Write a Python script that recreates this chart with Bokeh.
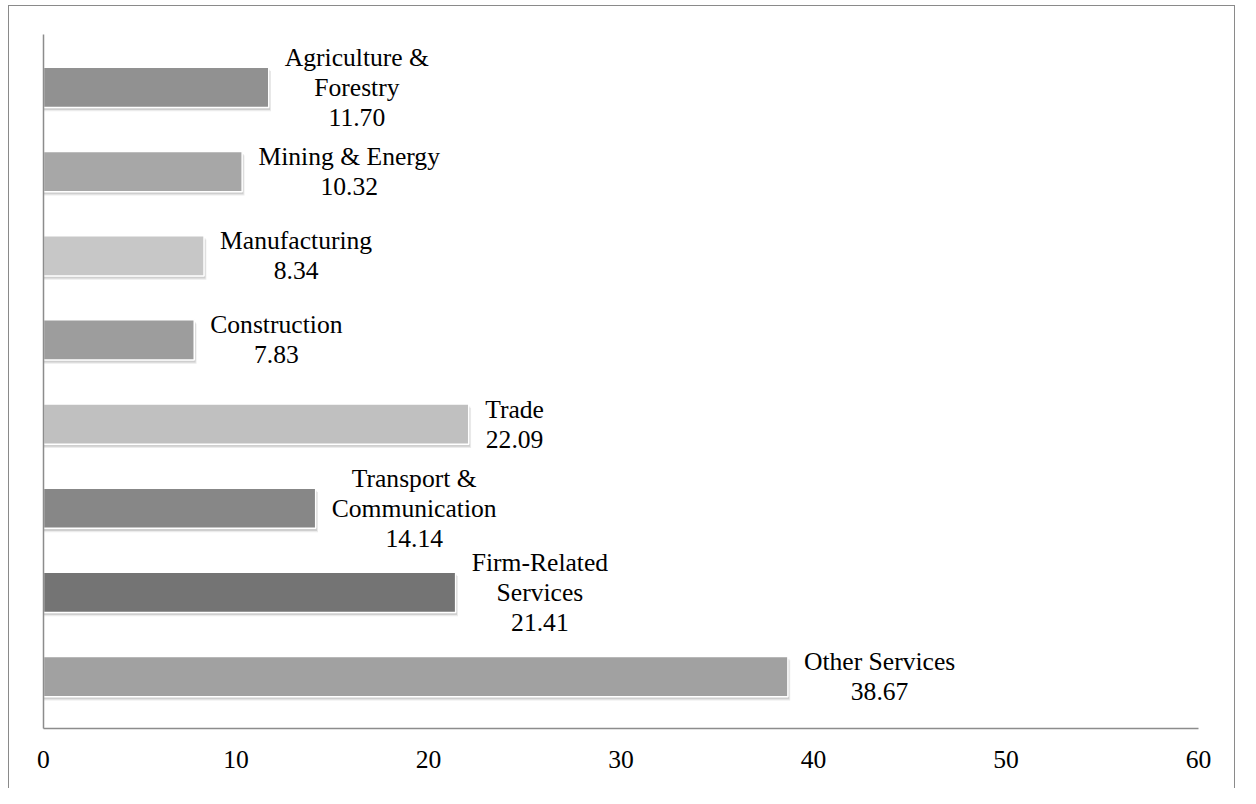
from bokeh.plotting import figure
from bokeh.models import Range1d, FixedTicker, ColumnDataSource, InlineStyleSheet
from bokeh.core.properties import value
from bokeh.embed import file_html
from bokeh.resources import INLINE

# ---- data ----
categories = ["Agriculture &\nForestry", "Mining & Energy", "Manufacturing", "Construction",
              "Trade", "Transport &\nCommunication", "Firm-Related\nServices", "Other Services"]
values = [11.70, 10.32, 8.34, 7.83, 22.09, 14.14, 21.41, 38.67]
bar_colors = ["#919191", "#a7a7a7", "#c7c7c7", "#9d9d9d",
              "#c0c0c0", "#878787", "#747474", "#a1a1a1"]
x_ticks = [0, 10, 20, 30, 40, 50, 60]

# ---- style ----
W, H = 1240, 788
FONT = "Liberation Serif"
FS = 25.6
LINE_H = 30.0
GAP = 16.0
# Times advance widths (per 1000 em) for label block width estimation
TW = {' ': 250, '&': 778, '-': 333, '.': 250,
      'A': 722, 'B': 667, 'C': 667, 'D': 722, 'E': 611, 'F': 556, 'G': 722, 'H': 722, 'I': 333,
      'J': 389, 'K': 722, 'L': 611, 'M': 889, 'N': 722, 'O': 722, 'P': 556, 'Q': 722, 'R': 667,
      'S': 556, 'T': 611, 'U': 722, 'V': 722, 'W': 944, 'X': 722, 'Y': 722, 'Z': 611,
      'a': 444, 'b': 500, 'c': 444, 'd': 500, 'e': 444, 'f': 333, 'g': 500, 'h': 500, 'i': 278,
      'j': 278, 'k': 500, 'l': 278, 'm': 778, 'n': 500, 'o': 500, 'p': 500, 'q': 500, 'r': 333,
      's': 389, 't': 278, 'u': 500, 'v': 500, 'w': 722, 'x': 500, 'y': 500, 'z': 444}
for d in "0123456789":
    TW[d] = 500


def text_w(s):
    return sum(TW.get(ch, 500) for ch in s) * FS / 1000.0


ypos = list(range(len(categories)))

p = figure(width=W, height=H, output_backend="svg", toolbar_location=None,
           x_range=Range1d(0, 60), y_range=Range1d(7.617, -0.629),
           min_border_left=43, min_border_right=42, min_border_top=34, min_border_bottom=60)
p.outline_line_color = None
p.grid.visible = False
p.background_fill_color = "white"
p.border_fill_color = "white"
p.stylesheets = [InlineStyleSheet(css=(
    ":host { position: relative; }"
    ":host::after { content: ''; position: absolute; left: 8px; top: 5px; right: 5px; "
    "bottom: 0px; border: 1.5px solid #8a8a8a; border-bottom: none; "
    "pointer-events: none; z-index: 10; }"))]

# shadows
p.hbar(y=[y + 0.045 for y in ypos], right=[v + 0.12 for v in values], left=0, height=0.478,
       fill_color="#9a9a9a", fill_alpha=0.2, line_color=None)
p.hbar(y=[y + 0.03 for y in ypos], right=[v + 0.07 for v in values], left=0, height=0.478,
       fill_color="#8a8a8a", fill_alpha=0.28, line_color=None)
# bars
p.hbar(y=ypos, right=values, left=0, height=0.478, fill_color=bar_colors,
       line_color="white", line_width=1.5)

# labels
lx, ly, lt, xo, yo = [], [], [], [], []
for i, (c, v) in enumerate(zip(categories, values)):
    lines = c.split("\n") + [f"{v:.2f}"]
    bw = max(text_w(s) for s in lines)
    n = len(lines)
    for j, s in enumerate(lines):
        lx.append(v)
        ly.append(ypos[i])
        lt.append(s)
        xo.append(GAP + bw / 2.0)
        yo.append((j - (n - 1) / 2.0) * LINE_H)
src = ColumnDataSource(dict(x=lx, y=ly, t=lt, xo=xo, yo=yo))
p.text(x="x", y="y", text="t", x_offset="xo", y_offset="yo", source=src,
       text_font=value(FONT), text_font_size=f"{FS}px", text_color="black",
       text_align="center", text_baseline="middle")

# axes
p.xaxis.ticker = FixedTicker(ticks=x_ticks)
p.xaxis.major_tick_out = 0
p.xaxis.major_tick_in = 0
p.xaxis.minor_tick_out = 0
p.xaxis.minor_tick_in = 0
p.xaxis.major_label_standoff = 22
p.xaxis.major_label_text_font = FONT
p.xaxis.major_label_text_font_size = f"{FS}px"
p.xaxis.major_label_text_color = "black"
p.xaxis.axis_line_color = "#8c8c8c"
p.xaxis.axis_line_width = 1.5

p.yaxis.ticker = FixedTicker(ticks=[])
p.yaxis.major_tick_out = 0
p.yaxis.minor_tick_out = 0
p.yaxis.major_label_text_font_size = "0px"
p.yaxis.axis_line_color = "#8c8c8c"
p.yaxis.axis_line_width = 1.5

open("out.html", "w").write(file_html(p, INLINE))
